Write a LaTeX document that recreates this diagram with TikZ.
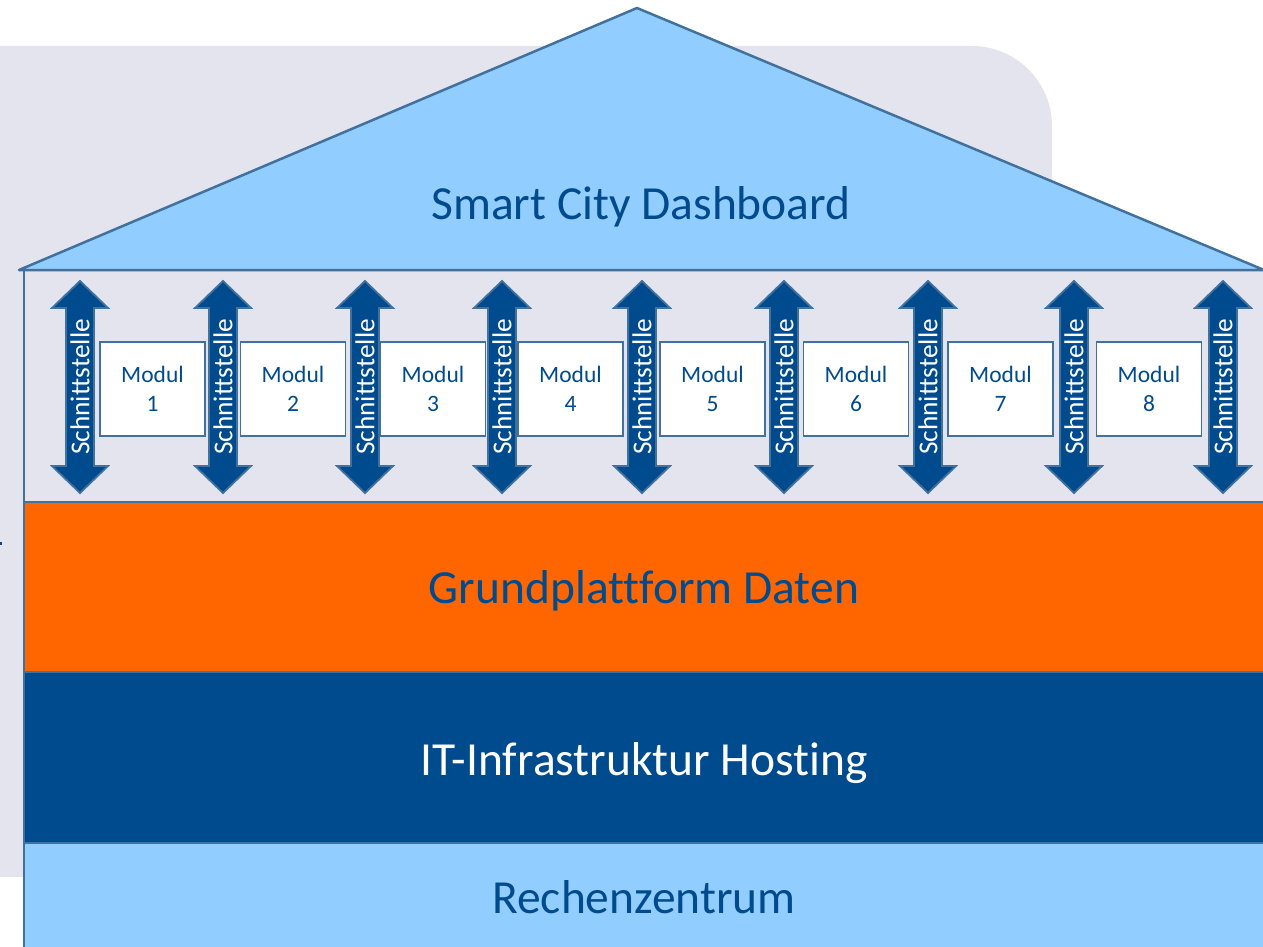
\documentclass[tikz,border=0pt]{standalone}
\usepackage{fontspec}
\setmainfont{Carlito}[RawFeature={-liga;-clig;-calt;-dlig}]
\definecolor{bg}{RGB}{228,228,239}
\definecolor{lblue}{RGB}{146,205,255}
\definecolor{dblue}{RGB}{0,75,141}
\definecolor{edgec}{RGB}{65,113,156}
\definecolor{orng}{RGB}{255,102,0}
\tikzset{
  layer/.style={draw=edgec, line width=2.5pt},
  bigtext/.style={anchor=base, font=\fontsize{47.5}{52}\selectfont},
  modbox/.style={draw=edgec, line width=1.8pt, fill=white, minimum width=105pt, minimum height=94pt, inner sep=0pt, align=center, text=dblue, font=\fontsize{23.5}{29}\selectfont},
  arrowshape/.style={fill=dblue, draw=edgec, line width=1.8pt, line join=miter},
  iftext/.style={rotate=90, text=white, inner sep=0pt, font=\fontsize{27.3}{30}\selectfont}
}
\begin{document}
\begin{tikzpicture}[x=1pt,y=-1pt]
\useasboundingbox (0,0) rectangle (1263,947);
\clip (0,0) rectangle (1263,947);
% background panel
\fill[bg] (-10,46) -- (972,46) .. controls (1016,46) and (1052,82) .. (1052,126) -- (1052,877) -- (-10,877) -- cycle;
\fill[dblue] (0,542) rectangle (2,545);
% house layers
\path[layer, fill=bg] (24,270) rectangle (1270,502);
\path[layer, fill=orng] (24,502) rectangle (1270,672);
\path[layer, fill=dblue] (24,672) rectangle (1270,843);
\path[layer, fill=lblue] (24,843) rectangle (1270,960);
% roof
\path[layer, fill=lblue, line join=round] (19,270) -- (637,8) -- (1264,270) -- cycle;
% texts
\node[bigtext, text=dblue] (dash) at (641,219) {Smart City Dashboard};
\node[bigtext, text=dblue] (grund) at (644,603) {Grundplattform Daten};
\node[bigtext, text=white] (it) at (644,775) {IT-Infrastruktur Hosting};
\node[bigtext, text=dblue] (rz) at (644,913) {Rechenzentrum};
% interface arrows
\foreach \cx [count=\i] in {80,223,365,502,642,784,928,1074,1223} {
  \path[arrowshape] (\cx,281) -- (\cx+28,308) -- (\cx+14,308) -- (\cx+14,466) -- (\cx+28,466) -- (\cx,493) -- (\cx-28,466) -- (\cx-14,466) -- (\cx-14,308) -- (\cx-28,308) -- cycle;
  \node[iftext] (if\i) at (\cx,387) {Schnittstelle};
}
% modules
\foreach \mx [count=\i] in {152.5,293,433,570.5,712.5,856,1000.5,1149} {
  \node[modbox] (mod\i) at (\mx,389) {Modul\\\i};
}
\end{tikzpicture}
\end{document}
